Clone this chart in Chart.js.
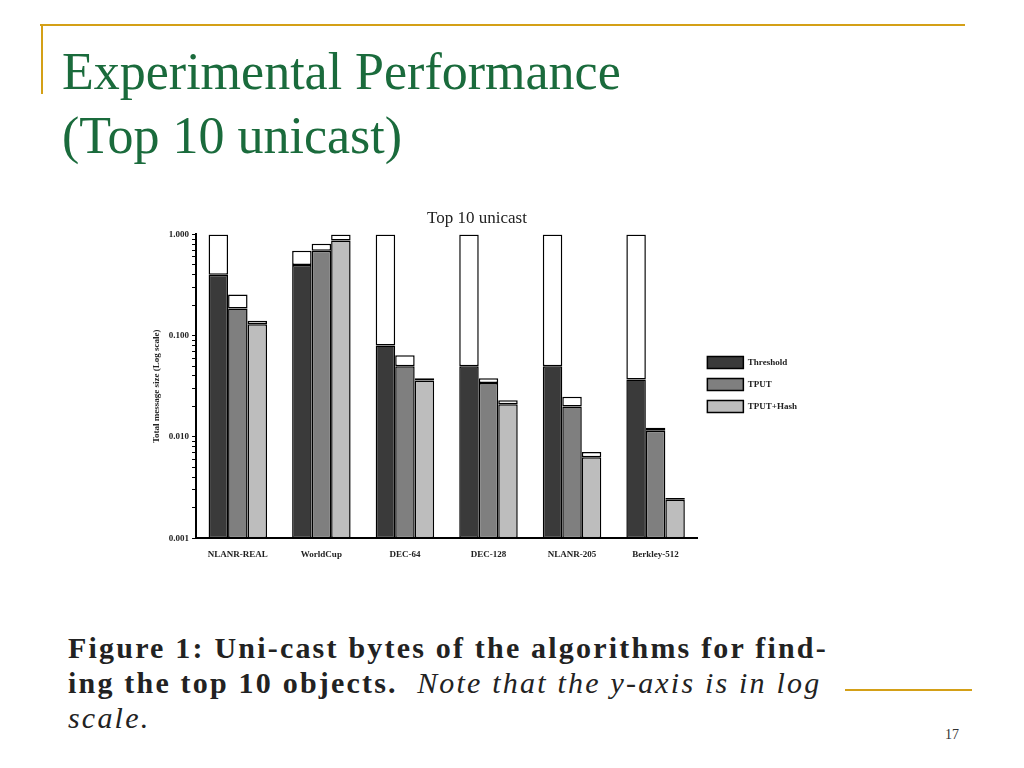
<!DOCTYPE html>
<html><head><meta charset="utf-8">
<script src="https://cdn.jsdelivr.net/npm/chart.js@4"></script>
<style>
body{margin:0;width:1024px;height:768px;background:#fff;position:relative;overflow:hidden;font-family:"Liberation Serif",serif}
.l{position:absolute;background:#d4a017}
#title{position:absolute;left:62px;top:40px;color:#1a6b3c;font-size:52px;line-height:64px}
#wrap{position:absolute;left:125px;top:206px;width:682px;height:357px}
#cap{position:absolute;left:68px;top:630px;width:800px;font-size:30px;line-height:35px;font-weight:bold;color:#222;letter-spacing:2.2px;white-space:nowrap}
#pg{position:absolute;left:945px;top:727px;font-size:14px;color:#333}
</style></head><body>
<div class="l" style="left:40px;top:24px;width:925px;height:2px"></div>
<div class="l" style="left:41px;top:24px;width:2px;height:70px"></div>
<div class="l" style="left:845px;top:689px;width:127px;height:2px"></div>
<div id="title">Experimental Performance<br>(Top 10 unicast)</div>
<div id="wrap"><canvas id="c"></canvas></div>
<div id="cap">Figure 1: Uni-cast bytes of the algorithms for find-<br>ing the top 10 objects. &nbsp;<span style="font-weight:normal;font-style:italic">Note that the y-axis is in log</span><br><span style="font-weight:normal;font-style:italic">scale.</span></div>
<div id="pg">17</div>
<script>
const categories=["NLANR-REAL","WorldCup","DEC-64","DEC-128","NLANR-205","Berkley-512"];
const seriesNames=["Threshold","TPUT","TPUT+Hash"];
const thresholdValue=[0.40,0.50,0.080,0.050,0.050,0.037];
const thresholdTotal=[1.0,0.69,1.0,1.0,1.0,1.0];
const tputValue=[0.185,0.69,0.050,0.034,0.020,0.0115];
const tputTotal=[0.255,0.81,0.064,0.038,0.025,0.0123];
const hashValue=[0.13,0.87,0.036,0.021,0.0063,0.0024];
const hashTotal=[0.14,1.0,0.038,0.023,0.0071,0.0025];
const yTicks=[0.001,0.01,0.1,1];
const base=0.001;
const colors=["#3a3a3a","#7f7f7f","#bdbdbd"];
const vals=[thresholdValue,tputValue,hashValue], tots=[thresholdTotal,tputTotal,hashTotal];
const ds=[];
seriesNames.forEach((n,i)=>{
 ds.push({label:n,stack:"s"+i,data:vals[i].map(v=>[base,v]),backgroundColor:colors[i],borderColor:"#000",borderWidth:1.5,borderSkipped:false,barPercentage:1,categoryPercentage:0.7});
 ds.push({label:"",stack:"s"+i,data:vals[i].map((v,k)=>[v,tots[i][k]]),backgroundColor:"#fff",borderColor:"#000",borderWidth:1.5,borderSkipped:false,barPercentage:1,categoryPercentage:0.7});
});
const f={family:"Liberation Serif",size:9,weight:"bold"};
new Chart(document.getElementById("c"),{type:"bar",data:{labels:categories,datasets:ds},
options:{responsive:true,maintainAspectRatio:false,animation:false,
layout:{padding:{top:0,right:0,left:22}},
plugins:{title:{display:true,text:"Top 10 unicast",color:"#222",font:{family:"Liberation Serif",size:17,weight:"normal"},padding:{top:2,bottom:6}},
legend:{position:"right",labels:{filter:i=>i.text!=="",boxWidth:36,boxHeight:12,color:"#222",font:f,padding:10}},tooltip:{enabled:false}},
scales:{x:{stacked:true,grid:{display:false},border:{color:"#000",width:2},ticks:{color:"#222",font:f,maxRotation:0}},
y:{type:"logarithmic",stacked:false,min:0.001,max:1,border:{color:"#000",width:2},grid:{display:true,drawOnChartArea:false,drawTicks:true,tickLength:4,color:"#000"},
title:{display:true,text:"Total message size (Log scale)",color:"#222",font:f},
afterBuildTicks:s=>{const t=[];for(let e=-3;e<0;e++)for(let m=1;m<10;m++)t.push({value:m*Math.pow(10,e)});t.push({value:1});s.ticks=t;},
ticks:{autoSkip:false,color:"#222",font:f,callback:v=>yTicks.some(t=>Math.abs(t-v)<1e-9)?v.toFixed(3):""}}}}});
</script></body></html>
